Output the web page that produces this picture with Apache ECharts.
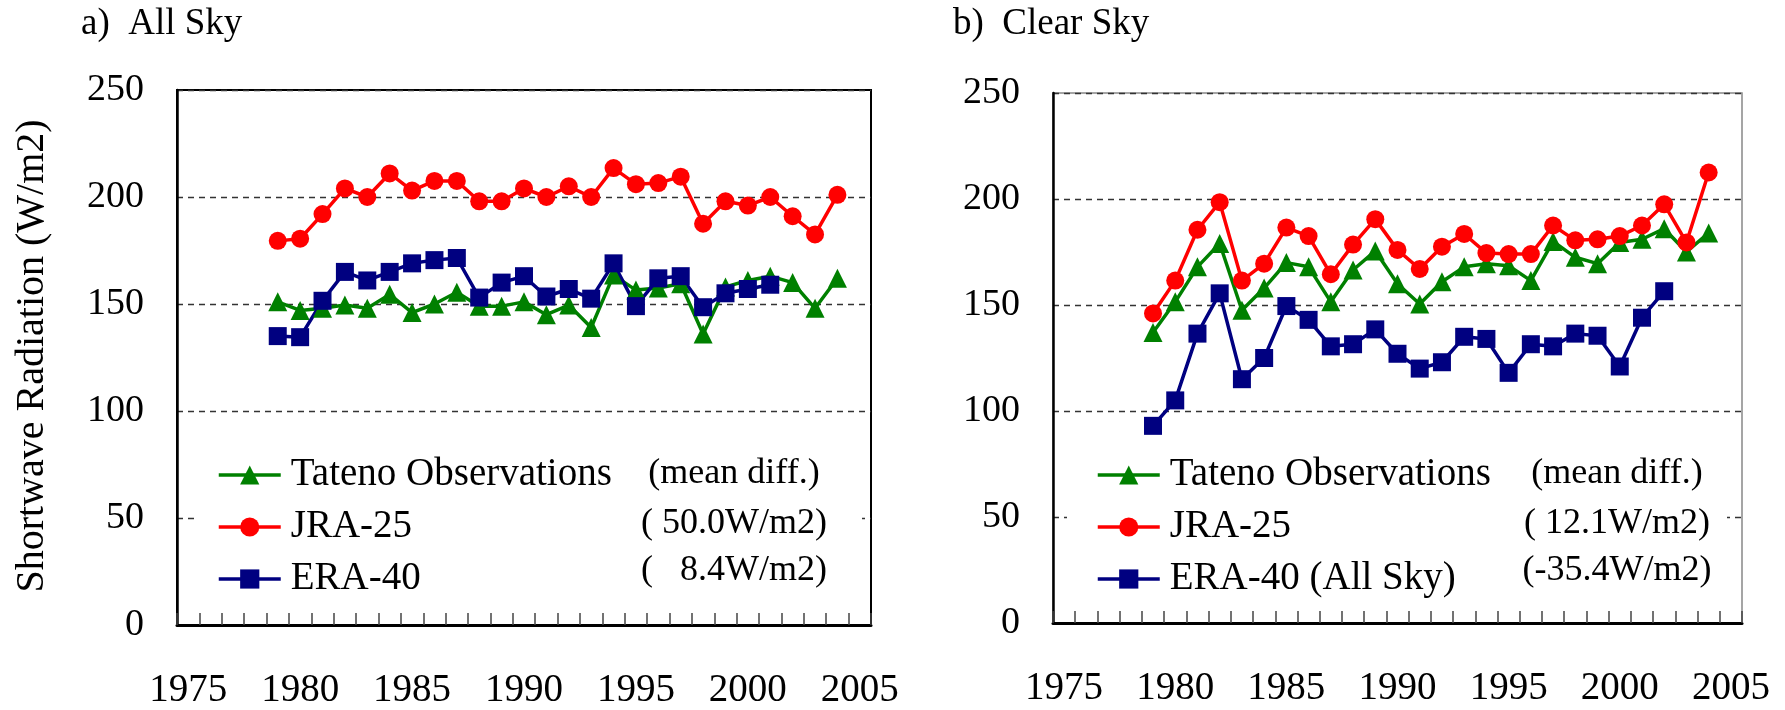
<!DOCTYPE html>
<html>
<head>
<meta charset="utf-8">
<script src="https://cdn.jsdelivr.net/npm/echarts@6/dist/echarts.min.js"></script>
<style>
html, body { margin: 0; padding: 0; background: #fff; }
#chart { width: 1785px; height: 710px; }
</style>
</head>
<body>
<div id="chart"></div>
<script>
// x axis categories (one per year, labels every 5th)
const years = ['1975', '1976', '1977', '1978', '1979', '1980', '1981', '1982', '1983', '1984',
    '1985', '1986', '1987', '1988', '1989', '1990', '1991', '1992', '1993', '1994',
    '1995', '1996', '1997', '1998', '1999', '2000', '2001', '2002', '2003', '2004', '2005'];
const yTicks = [0, 50, 100, 150, 200, 250];

// years with data
const obsYears = ['1979', '1980', '1981', '1982', '1983', '1984', '1985', '1986', '1987', '1988',
    '1989', '1990', '1991', '1992', '1993', '1994', '1995', '1996', '1997', '1998',
    '1999', '2000', '2001', '2002', '2003', '2004'];

// a) All Sky
const allTateno = [151, 147, 148, 149.5, 148, 154.5, 146, 150, 155.5, 149, 149, 151, 145, 149.5, 139,
    163.5, 156.5, 157.5, 159.5, 136, 158, 161, 163, 160, 148, 162];
const allJra = [179.5, 180.5, 192, 204, 200, 211, 203, 207.5, 207.5, 198, 198, 204, 200, 205, 200,
    213.5, 206, 206.5, 209.5, 187.5, 198, 196, 200, 191, 182.5, 201];
const allEra = [135, 134.5, 151.5, 165, 161, 165, 169, 170.5, 171.5, 153, 160, 163, 153.5, 157, 152.5,
    169, 149, 162, 163, 148.5, 155, 157, 159];

// b) Clear Sky
const clrTateno = [137, 151.5, 168, 179, 147.5, 158, 170, 168, 151.5, 166.5, 175.5, 160, 150.5, 161, 168,
    169.5, 168.5, 161.5, 180, 172.5, 169.5, 179.5, 181, 186, 175, 184];
const clrJra = [146, 161.5, 185.5, 198.5, 161.5, 169.5, 186.5, 182.5, 164.5, 178.5, 190.5, 176, 167, 177.5, 183.5,
    174.5, 174, 174, 187.5, 180.5, 181, 182.5, 187.5, 197.5, 179.5, 212.5];
const clrEra = [93, 105, 136.5, 155.5, 115, 125, 149.5, 143, 130.5, 131.5, 138.5, 127, 120, 123, 135,
    134, 118, 131.5, 130.5, 136.5, 135.5, 121, 144, 156.5];

const titles = ['a)  All Sky', 'b)  Clear Sky'];
const yName = 'Shortwave Radiation (W/m2)';
const namesA = ['Tateno Observations', 'JRA-25', 'ERA-40'];
const namesB = ['Tateno Observations', 'JRA-25', 'ERA-40 (All Sky)'];
const diffA = ['(mean diff.)', '( 50.0W/m2)', '(   8.4W/m2)'];
const diffB = ['(mean diff.)', '( 12.1W/m2)', '(-35.4W/m2)'];

const FONT = "'Liberation Serif', 'Times New Roman', serif";
const GREEN = '#008000', RED = '#ff0000', BLUE = '#000080';

function pairs(vals) {
    return vals.map((v, i) => [obsYears[i], v]);
}

function xAxisOf(idx) {
    return {
        type: 'category', gridIndex: idx, data: years, boundaryGap: true,
        axisLine: { show: true, lineStyle: { color: '#000', width: 3 } },
        axisTick: { show: true, inside: true, interval: 0, length: 12, lineStyle: { color: '#444', width: 1.5 } },
        axisLabel: { interval: 4, margin: 46, fontFamily: FONT, fontSize: 39, color: '#000' },
        splitLine: { show: false }
    };
}

function yAxisOf(idx) {
    return {
        type: 'value', gridIndex: idx, min: yTicks[0], max: yTicks[yTicks.length - 1], interval: 50,
        axisLine: { show: true, lineStyle: { color: '#000', width: 2.5 } },
        axisTick: { show: false },
        axisLabel: { margin: 33, fontFamily: FONT, fontSize: 38, color: '#000' },
        splitLine: { show: true, lineStyle: { color: '#333', width: 1.3, type: [6, 5] } }
    };
}

function lineSeries(name, idx, vals, color, symbol, size) {
    return {
        name: name, type: 'line', xAxisIndex: idx, yAxisIndex: idx,
        data: pairs(vals),
        symbol: symbol, symbolSize: size, showAllSymbol: true,
        lineStyle: { color: color, width: 3.5 },
        itemStyle: { color: color },
        animation: false
    };
}

function legendOf(left, names) {
    return {
        data: names, orient: 'vertical', left: left, top: 455, padding: 0,
        itemWidth: 62, itemHeight: 24, itemGap: 12, selectedMode: false,
        lineStyle: { width: 'inherit' },
        textStyle: { fontFamily: FONT, fontSize: 39, color: '#000', lineHeight: 40, padding: [0, 0, 0, 5] }
    };
}

function diffTexts(cx, rows) {
    const ys = [474, 524, 571];
    return rows.map((t, i) => ({
        type: 'text', x: cx, y: ys[i], z: 5,
        style: { text: t, fontFamily: FONT, fontSize: 36, fill: '#000', textAlign: 'center', textVerticalAlign: 'middle' }
    }));
}

const chart = echarts.init(document.getElementById('chart'), null, { renderer: 'canvas' });
chart.setOption({
    backgroundColor: '#fff',
    animation: false,
    textStyle: { fontFamily: FONT },
    title: [
        { text: titles[0], left: 81, top: 6, padding: 0, textStyle: { fontFamily: FONT, fontSize: 37, fontWeight: 'normal', color: '#000' } },
        { text: titles[1], left: 953, top: 6, padding: 0, textStyle: { fontFamily: FONT, fontSize: 37, fontWeight: 'normal', color: '#000' } }
    ],
    grid: [
        { left: 177, top: 90, width: 694, height: 537, show: true, borderColor: '#000', borderWidth: 2 },
        { left: 1053, top: 93, width: 689, height: 530, show: true, borderColor: '#888', borderWidth: 1.5 }
    ],
    xAxis: [xAxisOf(0), xAxisOf(1)],
    yAxis: [yAxisOf(0), yAxisOf(1)],
    legend: [legendOf(217, namesA), legendOf(1096, namesB)],
    graphic: [
        { type: 'rect', z: 1, shape: { x: 195, y: 440, width: 667, height: 165 }, style: { fill: '#fff' } },
        { type: 'rect', z: 1, shape: { x: 1067, y: 440, width: 660, height: 165 }, style: { fill: '#fff' } },
        {
            type: 'text', x: 32, y: 356, rotation: Math.PI / 2, z: 5,
            style: { text: yName, fontFamily: FONT, fontSize: 40, fill: '#000', textAlign: 'center', textVerticalAlign: 'middle' }
        }
    ].concat(diffTexts(734, diffA), diffTexts(1617, diffB)),
    series: [
        lineSeries(namesA[0], 0, allTateno, GREEN, 'triangle', 19),
        lineSeries(namesA[1], 0, allJra, RED, 'circle', 18),
        lineSeries(namesA[2], 0, allEra, BLUE, 'rect', 18),
        lineSeries(namesB[0], 1, clrTateno, GREEN, 'triangle', 19),
        lineSeries(namesB[1], 1, clrJra, RED, 'circle', 18),
        lineSeries(namesB[2], 1, clrEra, BLUE, 'rect', 18)
    ]
});
</script>
</body>
</html>
